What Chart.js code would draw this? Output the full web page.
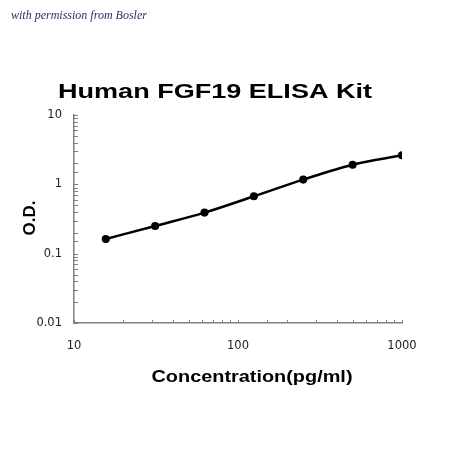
<!DOCTYPE html>
<html><head><meta charset="utf-8">
<script src="https://cdn.jsdelivr.net/npm/chart.js@4"></script>
<style>html,body{margin:0;padding:0;background:#fff}#wrap{width:449px;height:450px}</style>
</head><body><div id="wrap"><canvas id="c" width="449" height="450"></canvas></div>
<script>
const concentrations = [15.625, 31.25, 62.5, 125, 250, 500, 1000];
const odValues = [0.163, 0.251, 0.391, 0.673, 1.17, 1.92, 2.63];
const xTickLabels = [10, 100, 1000];
const yTickLabels = [0.01, 0.1, 1, 10];
const chartTitle = 'Human FGF19 ELISA Kit';
const xTitle = 'Concentration(pg/ml)';
const yTitle = 'O.D.';
const watermark = 'with permission from Bosler';

const isMajor = v => {
  const l = Math.log10(v);
  return Math.abs(l - Math.round(l)) < 1e-9;
};

function stretchedText(ctx, text, cx, y, targetW) {
  const w = ctx.measureText(text).width;
  const s = targetW / w;
  ctx.save();
  ctx.translate(cx, y);
  ctx.scale(s, 1);
  ctx.textAlign = 'center';
  ctx.fillText(text, 0, 0);
  ctx.restore();
}

const decor = {
  id: 'decor',
  afterDraw(chart) {
    const ctx = chart.ctx;
    const xs = chart.scales.x, ys = chart.scales.y;
    const a = chart.chartArea;
    ctx.save();
    ctx.strokeStyle = '#808080';
    ctx.lineWidth = 1;
    xs.ticks.forEach(t => {
      const px = Math.round(xs.getPixelForValue(t.value)) + 0.5;
      ctx.beginPath(); ctx.moveTo(px, a.bottom); ctx.lineTo(px, a.bottom - 3); ctx.stroke();
    });
    ys.ticks.forEach(t => {
      const py = Math.round(ys.getPixelForValue(t.value)) + 0.5;
      ctx.beginPath(); ctx.moveTo(a.left, py); ctx.lineTo(a.left + 4, py); ctx.stroke();
    });
    ctx.fillStyle = '#000';
    ctx.textBaseline = 'alphabetic';
    ctx.font = 'bold 21px "Liberation Sans", Arial, sans-serif';
    stretchedText(ctx, chartTitle, 215, 98, 314);
    ctx.font = 'bold 17px "Liberation Sans", Arial, sans-serif';
    stretchedText(ctx, xTitle, 252, 382, 201);
    ctx.save();
    ctx.translate(35, 218);
    ctx.rotate(-Math.PI / 2);
    ctx.textAlign = 'center';
    ctx.fillText(yTitle, 0, 0);
    ctx.restore();
    ctx.font = 'italic 12px "Liberation Serif", serif';
    ctx.fillStyle = '#1f2d5a';
    ctx.textAlign = 'left';
    ctx.fillText(watermark, 11, 19);
    ctx.restore();
  }
};

new Chart(document.getElementById('c'), {
  type: 'line',
  data: {
    datasets: [{
      data: concentrations.map((c, i) => ({x: c, y: odValues[i]})),
      borderColor: '#000',
      backgroundColor: '#000',
      borderWidth: 2.5,
      pointRadius: 2.8,
      pointBackgroundColor: '#000',
      pointBorderColor: '#000',
      cubicInterpolationMode: 'monotone',
      fill: false
    }]
  },
  options: {
    responsive: false,
    animation: false,
    devicePixelRatio: 1,
    layout: {padding: {left: 0, right: 47, top: 115, bottom: 0}},
    plugins: {legend: {display: false}, tooltip: {enabled: false}, title: {display: false}},
    scales: {
      x: {
        type: 'logarithmic', min: 10, max: 1000,
        afterFit(s) { s.height = 127; },
        grid: {display: false, drawTicks: false},
        border: {display: true, color: '#808080', width: 1.5},
        ticks: {
          autoSkip: false, maxRotation: 0, padding: 16,
          color: '#222', font: {family: '"DejaVu Sans"', size: 11.5},
          callback: v => (isMajor(v) && xTickLabels.includes(Math.round(v))) ? String(Math.round(v)) : ''
        }
      },
      y: {
        type: 'logarithmic', min: 0.01, max: 10,
        afterFit(s) { s.width = 74; },
        grid: {display: false, drawTicks: false},
        border: {display: true, color: '#808080', width: 1.5},
        ticks: {
          autoSkip: false, padding: 12,
          color: '#222', font: {family: '"DejaVu Sans"', size: 11.5},
          callback: v => {
            if (!isMajor(v)) return '';
            const m = yTickLabels.find(t => Math.abs(Math.log10(t) - Math.log10(v)) < 1e-9);
            return m !== undefined ? String(m) : '';
          }
        }
      }
    }
  },
  plugins: [decor]
});
</script>
</body></html>
